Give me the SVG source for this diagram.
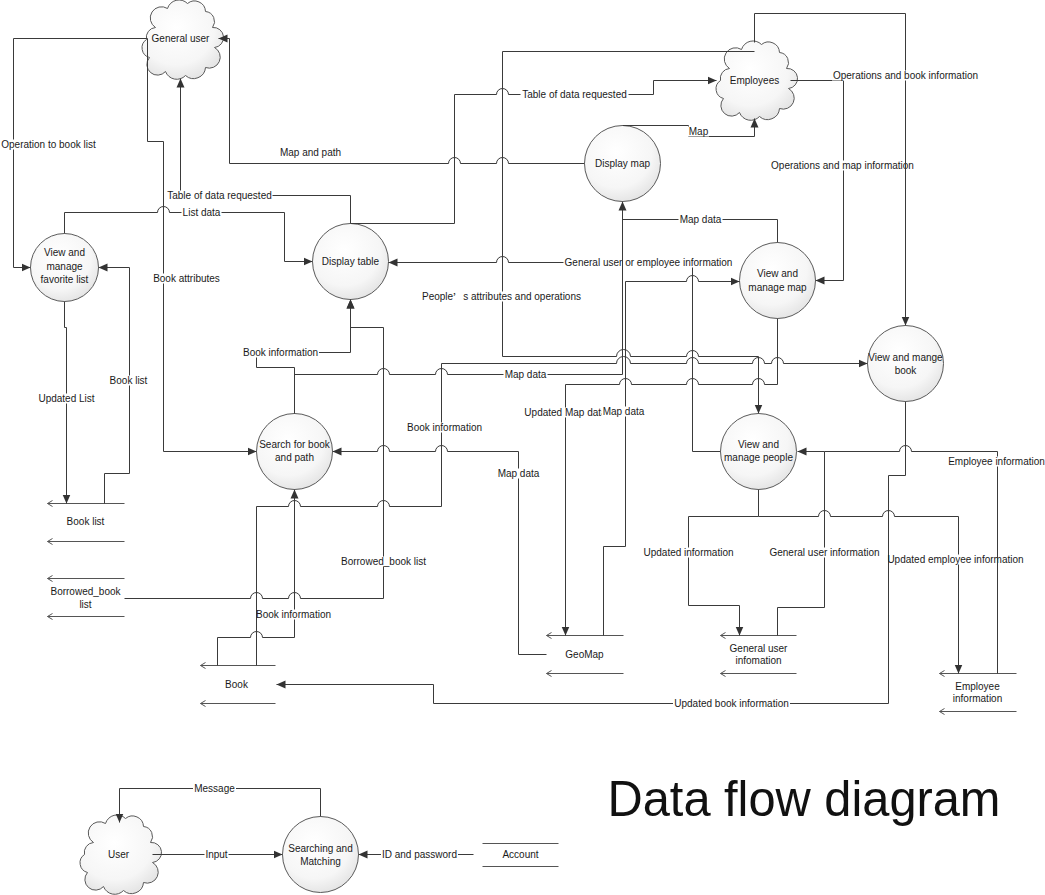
<svg xmlns="http://www.w3.org/2000/svg" width="1045" height="895" viewBox="0 0 1045 895">
<style>
text{font-family:"Liberation Sans",Arial,sans-serif;font-size:10px;fill:#1a1a1a}
.c{text-anchor:middle;dominant-baseline:central}
.ln{fill:none;stroke:#3a3a3a;stroke-width:1}
.ar{marker-end:url(#ah)}
.bg{fill:#fff}
.nd{fill:url(#rg);stroke:#5a5a5a;stroke-width:1}
.st{fill:none;stroke:#555;stroke-width:1}
.sc{marker-start:url(#ch)}
.title{font-size:50px;fill:#111}
</style>
<defs>
<radialGradient id="rg" cx="0.42" cy="0.35" r="0.72">
<stop offset="0" stop-color="#ffffff"/>
<stop offset="0.65" stop-color="#f6f6f6"/>
<stop offset="1" stop-color="#e0e0e0"/>
</radialGradient>
<marker id="ah" markerUnits="userSpaceOnUse" markerWidth="10" markerHeight="9" refX="9" refY="4.5" orient="auto">
<path d="M0,0.5 L9,4.5 L0,8.5 z" fill="#333"/>
</marker>
<marker id="ch" markerUnits="userSpaceOnUse" markerWidth="8" markerHeight="8" refX="1" refY="4" orient="auto">
<path d="M6,1 L1,4 L6,7" fill="none" stroke="#555" stroke-width="1"/>
</marker>
<path id="cloud" d="M-26,-12 A11,11 0 0 1 -14,-31 A12,12 0 0 1 6,-36 A11,11 0 0 1 24,-28 A10,10 0 0 1 31,-12 A10,10 0 0 1 33,8 A11,11 0 0 1 24,28 A12,12 0 0 1 4,36 A12,12 0 0 1 -16,32 A10,10 0 0 1 -32,18 A10,10 0 0 1 -35,0 A10,10 0 0 1 -26,-12 Z"/>
</defs>
<rect x="0" y="0" width="1045" height="895" fill="#fff"/>
<g transform="translate(0.5,0.5)">

<g id="nodes">
<g id="general-user"><use href="#cloud" x="181" y="39" class="nd"/><text class="c" x="180" y="38">General user</text></g>
<g id="employees"><use href="#cloud" x="755" y="80" class="nd"/><text class="c" x="754" y="80">Employees</text></g>
<g id="user"><use href="#cloud" x="119" y="854" class="nd"/><text class="c" x="118" y="854">User</text></g>
<g id="fav"><circle class="nd" cx="64" cy="267" r="34"/><text class="c" x="64" y="252">View and</text><text class="c" x="64" y="266">manage</text><text class="c" x="64" y="279">favorite list</text></g>
<g id="display-table"><circle class="nd" cx="350" cy="261" r="38"/><text class="c" x="350" y="261">Display table</text></g>
<g id="display-map"><circle class="nd" cx="622" cy="163" r="38"/><text class="c" x="622" y="163">Display map</text></g>
<g id="manage-map"><circle class="nd" cx="777" cy="280" r="38"/><text class="c" x="777" y="273">View and</text><text class="c" x="777" y="287">manage map</text></g>
<g id="manage-book"><circle class="nd" cx="905" cy="363" r="38"/><text class="c" x="905" y="357">View and mange</text><text class="c" x="905" y="370">book</text></g>
<g id="manage-people"><circle class="nd" cx="758" cy="451" r="38"/><text class="c" x="758" y="444">View and</text><text class="c" x="758" y="457">manage people</text></g>
<g id="search"><circle class="nd" cx="294" cy="451" r="38"/><text class="c" x="294" y="444">Search for book</text><text class="c" x="294" y="457">and path</text></g>
<g id="searching-matching"><circle class="nd" cx="320" cy="854" r="38"/><text class="c" x="320" y="848">Searching and</text><text class="c" x="320" y="861">Matching</text></g>
<g id="store-booklist"><path class="st sc" d="M47,503 H124"/><path class="st sc" d="M47,541 H124"/><text class="c" x="85" y="521">Book list</text></g>
<g id="store-borrowed"><path class="st sc" d="M47,578 H124"/><path class="st sc" d="M47,616 H124"/><text class="c" x="85" y="591">Borrowed_book</text><text class="c" x="85" y="604">list</text></g>
<g id="store-book"><path class="st sc" d="M200,665 H275"/><path class="st sc" d="M200,703 H275"/><text class="c" x="236" y="684">Book</text></g>
<g id="store-geomap"><path class="st sc" d="M546,635 H623"/><path class="st sc" d="M546,673 H623"/><text class="c" x="584" y="654">GeoMap</text></g>
<g id="store-genuser"><path class="st sc" d="M720,635 H796"/><path class="st sc" d="M720,673 H796"/><text class="c" x="758" y="648">General user</text><text class="c" x="758" y="660">infomation</text></g>
<g id="store-employee"><path class="st sc" d="M939,673 H1016"/><path class="st sc" d="M939,711 H1016"/><text class="c" x="977" y="686">Employee</text><text class="c" x="977" y="698">information</text></g>
<g id="store-account"><path class="st" d="M482,843 H558"/><path class="st" d="M482,866 H558"/><text class="c" x="520" y="854">Account</text></g>
</g>

<g id="connectors">
<g><path class="ln ar" d="M147,38 H13 V267 H30"/><rect class="bg" x="-0.5" y="139" width="97" height="10"/><text class="c" x="48" y="144">Operation to book list</text></g>
<g><path class="ln ar" d="M147,38 V141 H163 V451 H256"/><rect class="bg" x="151.5" y="273" width="69" height="10"/><text class="c" x="186" y="278">Book attributes</text></g>
<g><path class="ln ar" d="M584,163 H508 A6,6 0 0 0 496,163 H460 A6,6 0 0 0 448,163 H229 V38 H218"/><rect class="bg" x="278.5" y="147" width="63" height="10"/><text class="c" x="310" y="152">Map and path</text></g>
<g><path class="ln ar" d="M350,223 V195 H180 V78"/><rect class="bg" x="166" y="190" width="106" height="10"/><text class="c" x="219" y="195">Table of data requested</text></g>
<g><path class="ln ar" d="M64,233 V212 H157 A6,6 0 0 1 169,212 H284 V261 H312"/><rect class="bg" x="181" y="207" width="40" height="10"/><text class="c" x="201" y="212">List data</text></g>
<g><path class="ln ar" d="M104,503 V473 H129 V267 H98"/><rect class="bg" x="108" y="375" width="40" height="10"/><text class="c" x="128" y="380">Book list</text></g>
<g><path class="ln ar" d="M64,301 V327 H66 V503"/><rect class="bg" x="37" y="393" width="58" height="10"/><text class="c" x="66" y="398">Updated List</text></g>
<g><path class="ln ar" d="M294,413 V367 H256 V352 H350 V299"/><rect class="bg" x="241.5" y="347" width="77" height="10"/><text class="c" x="280" y="352">Book information</text></g>
<g><path class="ln ar" d="M720,451 H692 V262 H508 A6,6 0 0 0 496,262 H388"/><rect class="bg" x="563" y="257" width="170" height="10"/><text class="c" x="648" y="262">General user or employee information</text></g>
<g><path class="ln ar" d="M294,413 V374 H377 A6,6 0 0 1 389,374 H435 A6,6 0 0 1 447,374 H622 V201"/><rect class="bg" x="503" y="369" width="44" height="10"/><text class="c" x="525" y="374">Map data</text></g>
<g><path class="ln" d="M777,242 V219 H622"/><rect class="bg" x="678" y="214" width="44" height="10"/><text class="c" x="700" y="219">Map data</text></g>
<g><path class="ln ar" d="M754,51 H502 V356 H616 A7,7 0 0 1 630,356 H686 A6,6 0 0 1 698,356 H758 V413"/><rect class="bg" x="420.5" y="291" width="161" height="10"/><text class="c" x="501" y="296">People<tspan font-family="'Noto Sans CJK SC',sans-serif">’</tspan>s attributes and operations</text></g>
<g><path class="ln ar" d="M350,223 H454 V94 H496 A6,6 0 0 1 508,94 H653 V80 H716"/><rect class="bg" x="520" y="89" width="108" height="10"/><text class="c" x="574" y="94">Table of data requested</text></g>
<g><path class="ln ar" d="M622,125 H688 V136 H754 V118"/><rect class="bg" x="687.5" y="126" width="21" height="10"/><text class="c" x="698" y="131">Map</text></g>
<g><path class="ln ar" d="M790,80 H843 V280 H815"/><rect class="bg" x="769.5" y="160" width="145" height="10"/><text class="c" x="842" y="165">Operations and map information</text></g>
<g><path class="ln ar" d="M754,42 V13 H905 V325"/><rect class="bg" x="831.5" y="70" width="147" height="10"/><text class="c" x="905" y="75">Operations and book information</text></g>
<g><path class="ln ar" d="M777,318 V384 H764 A6,6 0 0 0 752,384 H698 A6,6 0 0 0 686,384 H631 A6,6 0 0 0 619,384 H565 V635"/><rect class="bg" x="523" y="407" width="84" height="10"/><text class="c" x="565" y="412">Updated Map data</text></g>
<g><path class="ln ar" d="M603,635 V546 H625 V281 H686 A6,6 0 0 1 698,281 H739"/><rect class="bg" x="601" y="406" width="44" height="10"/><text class="c" x="623" y="411">Map data</text></g>
<g><path class="ln ar" d="M256,665 V506 H288 A6,6 0 0 1 300,506 H377 A6,6 0 0 1 389,506 H441 V363 H616 A7,7 0 0 1 630,363 H686 A6,6 0 0 1 698,363 H752 A6,6 0 0 1 764,363 H771 A6,6 0 0 1 783,363 H867"/><rect class="bg" x="405.5" y="422" width="77" height="10"/><text class="c" x="444" y="427">Book information</text></g>
<g><path class="ln ar" d="M217,665 V637 H250 A6,6 0 0 1 262,637 H294 V489"/><rect class="bg" x="257" y="609" width="73" height="10"/><text class="c" x="293" y="614">Book information</text></g>
<g><path class="ln ar" d="M546,654 H518 V451 H447 A6,6 0 0 0 435,451 H389 A6,6 0 0 0 377,451 H332"/><rect class="bg" x="496" y="468" width="44" height="10"/><text class="c" x="518" y="473">Map data</text></g>
<g><path class="ln ar" d="M124,598 H250 A6,6 0 0 1 262,598 H288 A6,6 0 0 1 300,598 H383 V327 H350 V299"/><rect class="bg" x="339.5" y="556" width="87" height="10"/><text class="c" x="383" y="561">Borrowed_book list</text></g>
<g><path class="ln ar" d="M905,401 V475 H888 V703 H433 V684 H276"/><rect class="bg" x="672.5" y="698" width="117" height="10"/><text class="c" x="731" y="703">Updated book information</text></g>
<g><path class="ln ar" d="M758,489 V516 H688 V605 H739 V635"/><rect class="bg" x="642" y="547" width="92" height="10"/><text class="c" x="688" y="552">Updated information</text></g>
<g><path class="ln ar" d="M758,516 H818 A6,6 0 0 1 830,516 H882 A6,6 0 0 1 894,516 H958 V673"/><rect class="bg" x="889" y="554" width="134" height="10"/><text class="c" x="955" y="559">Updated employee information</text></g>
<g><path class="ln ar" d="M777,635 V607 H824 V451 H797"/><rect class="bg" x="768" y="547" width="112" height="10"/><text class="c" x="824" y="552">General user information</text></g>
<g><path class="ln" d="M997,673 V451 H911 A6,6 0 0 0 899,451 H824"/><rect class="bg" x="946.5" y="456" width="99" height="10"/><text class="c" x="996" y="461">Employee information</text></g>
<g><path class="ln ar" d="M320,816 V788 H119 V822"/><rect class="bg" x="192.5" y="783" width="43" height="10"/><text class="c" x="214" y="788">Message</text></g>
<g><path class="ln ar" d="M152,854 H282"/><rect class="bg" x="204" y="849" width="24" height="10"/><text class="c" x="216" y="854">Input</text></g>
<g><path class="ln ar" d="M473,854 H358"/><rect class="bg" x="380.5" y="849" width="77" height="10"/><text class="c" x="419" y="854">ID and password</text></g>
</g>

<text class="title" x="607" y="815" textLength="393" lengthAdjust="spacingAndGlyphs">Data flow diagram</text>
</g>
</svg>
